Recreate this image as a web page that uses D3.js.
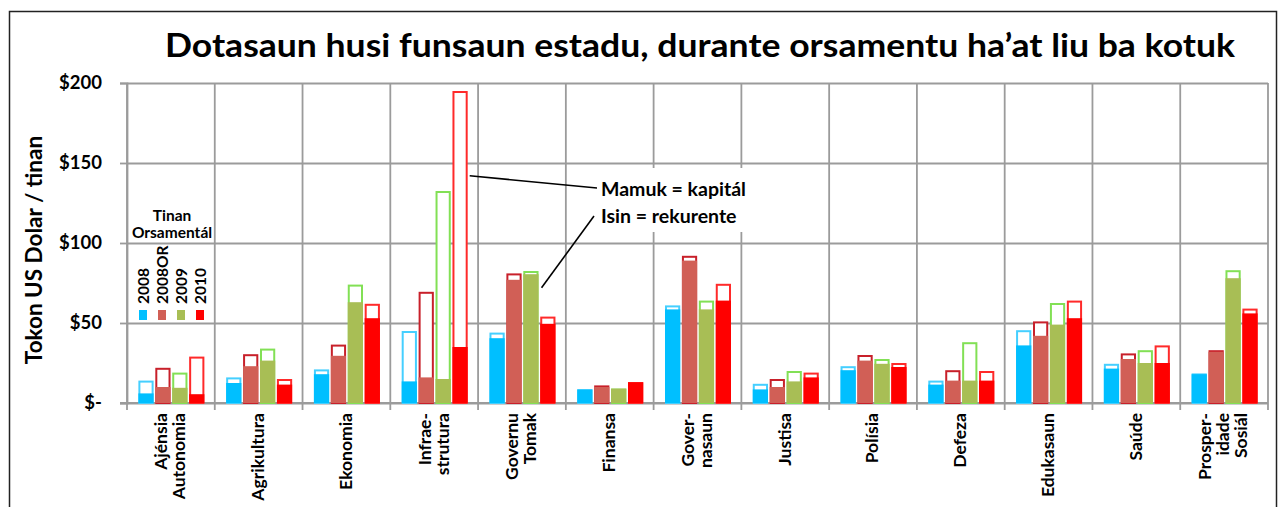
<!DOCTYPE html>
<html>
<head>
<meta charset="utf-8">
<script src="https://cdn.jsdelivr.net/npm/d3@7"></script>
<style>
  html, body { margin: 0; padding: 0; background: #fff; }
  svg { display: block; }
  text { font-family: Lato, "Open Sans", sans-serif; font-weight: 700; fill: #000; }
</style>
</head>
<body>
<svg id="chart" width="1281" height="507"></svg>
<script>
// ---------- DATA ----------
const categories = ["Ajénsia\nAutonomia","Agrikultura","Ekonomia","Infrae-\nstrutura","Governu\nTomak","Finansa","Gover-\nnasaun","Justisa","Polísia","Defeza","Edukasaun","Saúde","Prosper-\nidade\nSosiál"];
const series = ["2008","2008OR","2009","2010"];
// total (capital + recurrent) per series
const total2008   = [14, 16, 21, 45, 44, 8.5, 61, 12, 23, 14, 45.5, 24.5, 18.5];
const total2008OR = [22, 30.5, 36.5, 69.5, 81, 11, 92, 15, 30, 20.5, 51, 31, 33];
const total2009   = [19, 34, 74, 132.5, 82.5, 9, 64, 20, 27.5, 38, 62.5, 33, 83];
const total2010   = [29, 15, 62, 195, 54, 13, 74.5, 19, 25, 20, 64, 36, 59];
// recurrent part per series
const recur2008   = [6, 12.5, 18, 13.5, 40.5, 8.5, 58.5, 8.5, 20.5, 11.5, 36, 21.5, 18];
const recur2008OR = [10, 23, 29.5, 16, 77, 10, 89, 10, 26.5, 14, 42, 27.5, 32];
const recur2009   = [9.5, 26.5, 63, 15, 80.5, 9, 58.5, 13.5, 24.5, 14, 49, 25, 78];
const recur2010   = [5.5, 11.5, 53, 35, 49.5, 13, 64, 16, 22.5, 14, 53, 25, 56];
const yTickValues = [0, 50, 100, 150, 200];
const yTickLabels = ["$-", "$50", "$100", "$150", "$200"];
const titleText = "Dotasaun husi funsaun estadu, durante orsamentu ha’at liu ba kotuk";
const yAxisTitle = "Tokon US Dolar / tinan";
const legendTitle = ["Tinan", "Orsamentál"];
const noteLines = ["Mamuk = kapitál", "Isin = rekurente"];

const totals = {"2008": total2008, "2008OR": total2008OR, "2009": total2009, "2010": total2010};
const recurs = {"2008": recur2008, "2008OR": recur2008OR, "2009": recur2009, "2010": recur2010};
const fillColor   = {"2008": "#00BFFF", "2008OR": "#D15F56", "2009": "#A8BE55", "2010": "#FF0000"};
const strokeColor = {"2008": "#45CFFF", "2008OR": "#C8202A", "2009": "#82E055", "2010": "#FF2A2A"};

// ---------- LAYOUT ----------
const svg = d3.select("#chart");
const L = 127, R = 1268, T = 83, B = 403;

// frame
svg.append("rect").attr("x", 9.5).attr("y", 11.5).attr("width", 1267).attr("height", 520)
  .attr("fill", "none").attr("stroke", "#222").attr("stroke-width", 1.5);

const x0 = d3.scaleBand().domain(categories).range([L, R]).paddingInner(0).paddingOuter(0);
const bw = x0.bandwidth();
const x1 = d3.scaleBand().domain(series).range([bw / 2 - 32.5, bw / 2 + 33.5]).paddingInner(0.1);
const y = d3.scaleLinear().domain([0, 200]).range([B, T]);

const gridColor = "#9B9B9B";

// horizontal gridlines
svg.append("g").attr("transform", `translate(${L},0)`)
  .call(d3.axisLeft(y).tickValues(yTickValues).tickSize(-(R - L)).tickFormat(""))
  .call(g => g.select(".domain").remove())
  .call(g => g.selectAll("line").attr("stroke", gridColor).attr("stroke-width", 1.8));

// y axis with labels and short ticks
svg.append("g").attr("transform", `translate(${L},0)`)
  .call(d3.axisLeft(y).tickValues(yTickValues).tickSize(7).tickPadding(18)
        .tickFormat((d, i) => yTickLabels[i]))
  .call(g => g.select(".domain").attr("stroke", gridColor).attr("stroke-width", 1.8))
  .call(g => g.selectAll("line").attr("stroke", gridColor).attr("stroke-width", 1.8))
  .call(g => g.selectAll("text").attr("font-size", 18.5).attr("font-family", "Lato").attr("font-weight", 700).attr("fill", "#000"));

// vertical gridlines at category boundaries (with ticks below axis)
const bounds = categories.map(c => x0(c)).concat([R]);
svg.append("g").selectAll("line").data(bounds).join("line")
  .attr("x1", d => d).attr("x2", d => d).attr("y1", T).attr("y2", B + 7)
  .attr("stroke", gridColor).attr("stroke-width", 1.8);
// x axis baseline
svg.append("line").attr("x1", L - 7).attr("x2", R).attr("y1", B).attr("y2", B)
  .attr("stroke", gridColor).attr("stroke-width", 1.8);

// bars
const groups = svg.append("g").selectAll("g").data(categories).join("g")
  .attr("transform", d => `translate(${x0(d)},0)`);
series.forEach(s => {
  groups.append("rect")
    .attr("x", (d) => x1(s) + 1)
    .attr("width", x1.bandwidth() - 2)
    .attr("y", (d, i) => y(totals[s][i]) + 1)
    .attr("height", (d, i) => y(0) - y(totals[s][i]) - 1)
    .attr("fill", "#fff").attr("stroke", strokeColor[s]).attr("stroke-width", 2);
  groups.append("rect")
    .attr("x", (d) => x1(s))
    .attr("width", x1.bandwidth())
    .attr("y", (d, i) => y(recurs[s][i]))
    .attr("height", (d, i) => y(0) - y(recurs[s][i]))
    .attr("fill", fillColor[s]);
});

// x axis labels (rotated, multi-line)
svg.append("g").attr("transform", `translate(0,${B})`)
  .call(d3.axisBottom(x0).tickSize(0).tickFormat(""))
  .call(g => g.select(".domain").remove());
const fsX = 17.5, lsX = 18;
svg.append("g").selectAll("g").data(categories).join("g")
  .attr("transform", d => `translate(${x0(d) + bw / 2 - 1},${B + 10}) rotate(-90)`)
  .each(function(d) {
    const lines = d.split("\n");
    const n = lines.length;
    const t = d3.select(this).append("text").attr("text-anchor", "end").attr("font-size", fsX);
    lines.forEach((ln, i) => {
      t.append("tspan").attr("x", 0).attr("y", (i - (n - 1) / 2) * lsX + 0.36 * fsX).text(ln);
    });
  });

// title
svg.append("text").attr("x", 700).attr("y", 57).attr("text-anchor", "middle")
  .attr("font-size", 33).attr("textLength", 1070).attr("lengthAdjust", "spacingAndGlyphs")
  .text(titleText);

// y axis title
svg.append("text").attr("transform", "translate(42,250) rotate(-90)")
  .attr("text-anchor", "middle").attr("font-size", 22.5).text(yAxisTitle);

// legend
svg.append("g").selectAll("text").data(legendTitle).join("text")
  .attr("x", 172).attr("y", (d, i) => 221 + i * 17).attr("text-anchor", "middle")
  .attr("font-size", 15.5).text(d => d);
const legX = [143, 162, 181, 200];
const leg = svg.append("g").selectAll("g").data(series).join("g")
  .attr("transform", (d, i) => `translate(${legX[i]},0)`);
leg.append("text").attr("transform", "translate(0,304) rotate(-90)")
  .attr("y", 0.36 * 15.5).attr("font-size", 15.5).text(d => d);
leg.append("rect").attr("x", -4).attr("y", 310).attr("width", 8).attr("height", 10)
  .attr("fill", d => fillColor[d]);

// annotation
svg.append("rect").attr("x", 597).attr("y", 168).attr("width", 160).attr("height", 64).attr("fill", "#fff");
svg.append("g").selectAll("text").data(noteLines).join("text")
  .attr("x", 601).attr("y", (d, i) => 196 + i * 27).attr("font-size", 19.5).text(d => d);
const infra = categories[3], gov = categories[4];
svg.append("line")
  .attr("x1", x0(infra) + x1("2010") + x1.bandwidth() + 2).attr("y1", y(142))
  .attr("x2", 597).attr("y2", 188).attr("stroke", "#000").attr("stroke-width", 1.6);
svg.append("line")
  .attr("x1", x0(gov) + x1("2009") + x1.bandwidth() + 3).attr("y1", y(72))
  .attr("x2", 594).attr("y2", 216).attr("stroke", "#000").attr("stroke-width", 1.6);
</script>
</body>
</html>
